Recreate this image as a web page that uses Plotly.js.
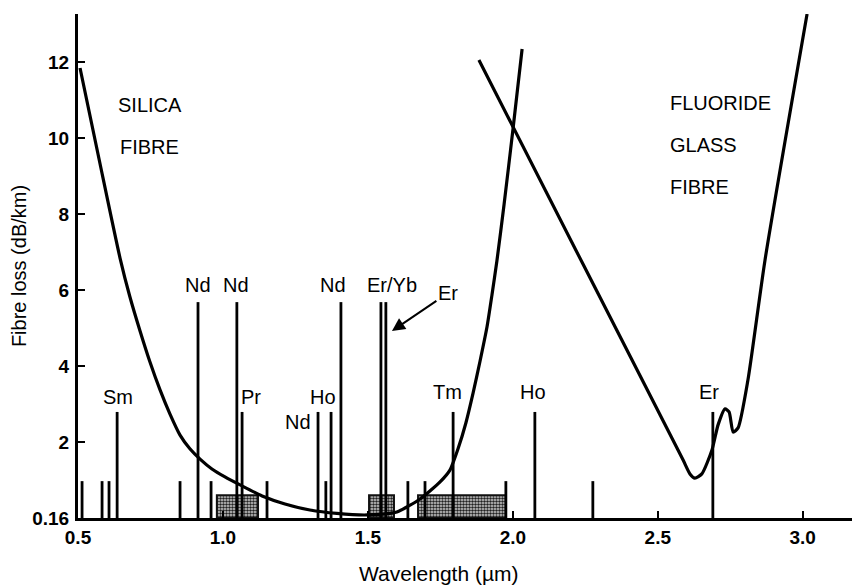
<!DOCTYPE html>
<html>
<head>
<meta charset="utf-8">
<script src="https://cdn.plot.ly/plotly-3.0.1.min.js"></script>
<style>html,body{margin:0;padding:0;background:#fff;}#chart{width:852px;height:586px;}</style>
</head>
<body>
<div id="chart"></div>
<script>
// Silica fibre loss curve (wavelength in µm, loss in dB/km)
const silicaWl   = [0.507, 0.576, 0.645, 0.679, 0.714, 0.748, 0.783, 0.817, 0.852, 0.886, 0.921, 0.962, 1.007, 1.059, 1.135, 1.214, 1.300, 1.393, 1.497, 1.600, 1.680, 1.749, 1.783, 1.811, 1.838, 1.863, 1.887, 1.911, 1.928, 1.945, 1.970, 2.001, 2.032];
const silicaLoss = [11.84, 9.32, 6.84, 5.82, 4.92, 4.11, 3.37, 2.74, 2.18, 1.82, 1.55, 1.29, 1.08, 0.87, 0.58, 0.37, 0.21, 0.12, 0.08, 0.16, 0.50, 0.95, 1.26, 1.82, 2.50, 3.29, 4.13, 5.03, 5.87, 6.76, 8.26, 10.26, 12.34];

// Fluoride glass fibre loss curve
const fluorideWl   = [1.883, 2.242, 2.587, 2.611, 2.628, 2.652, 2.687, 2.708, 2.732, 2.746, 2.760, 2.777, 2.811, 2.870, 3.015];
const fluorideLoss = [12.05, 6.68, 1.53, 1.16, 1.05, 1.16, 1.79, 2.45, 2.87, 2.79, 2.26, 2.37, 3.63, 6.79, 13.26];

// Emission lines of rare-earth dopants (wavelength, line height)
const lineWl  = [0.514, 0.583, 0.607, 0.852, 0.959, 1.152, 1.355, 1.638, 1.697, 1.976, 2.276,
                 0.635, 1.066, 1.328, 1.373, 1.794, 2.076, 2.690,
                 0.914, 1.048, 1.407, 1.545, 1.562];
const lineTop = [0.97, 0.97, 0.97, 0.97, 0.97, 0.97, 0.97, 0.97, 0.97, 0.97, 0.97,
                 2.79, 2.79, 2.79, 2.79, 2.79, 2.79, 2.79,
                 5.68, 5.68, 5.68, 5.68, 5.68];

// Shaded bands
const bandStart = [0.979, 1.504, 1.673];
const bandEnd   = [1.121, 1.590, 1.976];
const bandTop   = [0.60, 0.60, 0.60];

// Dopant labels
const dopantText = ['Nd', 'Nd', 'Nd', 'Er/Yb', 'Sm', 'Pr', 'Ho', 'Nd', 'Tm', 'Ho', 'Er'];
const dopantWl   = [0.914, 1.045, 1.380, 1.583, 0.638, 1.097, 1.345, 1.259, 1.776, 2.070, 2.677];
const dopantLoss = [6.13, 6.13, 6.13, 6.13, 3.18, 3.18, 3.18, 2.53, 3.32, 3.32, 3.32];

// Axis ticks
const xTickVals = [0.5, 1.0, 1.5, 2.0, 2.5, 3.0];
const xTickText = ['0.5', '1.0', '1.5', '2.0', '2.5', '3.0'];
const yTickVals = [0, 2, 4, 6, 8, 10, 12];
const yTickText = ['0.16', '2', '4', '6', '8', '10', '12'];

const FONT = 'Liberation Sans, Arial, Helvetica, sans-serif';
const traces = [];

bandStart.forEach((s, i) => {
  traces.push({
    type: 'scatter', mode: 'lines', hoverinfo: 'skip', showlegend: false,
    x: [s, s, bandEnd[i], bandEnd[i], s],
    y: [0, bandTop[i], bandTop[i], 0, 0],
    fill: 'toself',
    fillcolor: '#c0c0c0',
    fillpattern: {shape: '.', bgcolor: '#d4d4d4', fgcolor: '#222', size: 3, solidity: 0.55},
    line: {color: '#111', width: 2}
  });
});

const lx = [], ly = [];
lineWl.forEach((w, i) => { lx.push(w, w, null); ly.push(0, lineTop[i], null); });
traces.push({type: 'scatter', mode: 'lines', x: lx, y: ly, showlegend: false, hoverinfo: 'skip',
  line: {color: '#000', width: 2.8}});

traces.push({type: 'scatter', mode: 'lines', name: 'Silica fibre', x: silicaWl, y: silicaLoss, showlegend: false,
  line: {color: '#000', width: 3.2, shape: 'spline', smoothing: 0.6}});
traces.push({type: 'scatter', mode: 'lines', name: 'Fluoride glass fibre', x: fluorideWl, y: fluorideLoss, showlegend: false,
  line: {color: '#000', width: 3.2, shape: 'spline', smoothing: 0.6}});

const annotations = dopantText.map((t, i) => ({
  x: dopantWl[i], y: dopantLoss[i], xref: 'x', yref: 'y', text: t, showarrow: false,
  xanchor: 'center', yanchor: 'middle', font: {family: FONT, size: 20, color: '#000'}
}));
// Er with arrow
annotations.push({x: 1.583, y: 4.92, xref: 'x', yref: 'y', ax: 1.776, ay: 5.92, axref: 'x', ayref: 'y',
  text: 'Er', showarrow: true, arrowhead: 2, arrowsize: 1.3, arrowwidth: 2, arrowcolor: '#000',
  font: {family: FONT, size: 20, color: '#000'}});
// Fibre names
[['SILICA', 0.748, 10.87, 'center'], ['FIBRE', 0.748, 9.76, 'center'],
 ['FLUORIDE', 2.535, 10.92, 'left'], ['GLASS', 2.535, 9.82, 'left'], ['FIBRE', 2.535, 8.71, 'left']]
 .forEach(a => annotations.push({x: a[1], y: a[2], xref: 'x', yref: 'y', text: a[0], showarrow: false,
   xanchor: a[3], yanchor: 'middle', font: {family: FONT, size: 20, color: '#000'}}));
// x-axis title
annotations.push({x: 0.466, y: -0.11, xref: 'paper', yref: 'paper', text: 'Wavelength (µm)', showarrow: false,
  xanchor: 'center', yanchor: 'middle', font: {family: FONT, size: 21, color: '#000'}});

const layout = {
  width: 852, height: 586,
  margin: {l: 78, r: 0, t: 14, b: 68},
  paper_bgcolor: '#fff', plot_bgcolor: '#fff',
  showlegend: false,
  font: {family: FONT, color: '#000'},
  xaxis: {
    range: [0.5, 3.17], showgrid: false, zeroline: false,
    showline: true, linecolor: '#000', linewidth: 3,
    ticks: 'inside', ticklen: 7, tickwidth: 2, tickcolor: '#000',
    tickvals: xTickVals, ticktext: xTickText, ticklabelstandoff: 0,
    tickfont: {family: FONT, size: 19, color: '#000', weight: 'bold'}
  },
  yaxis: {
    range: [0, 13.26], showgrid: false, zeroline: false,
    showline: true, linecolor: '#000', linewidth: 3,
    ticks: 'inside', ticklen: 7, tickwidth: 2, tickcolor: '#000',
    tickvals: yTickVals, ticktext: yTickText, ticklabelstandoff: 2,
    tickfont: {family: FONT, size: 19, color: '#000', weight: 'bold'},
    title: {text: 'Fibre loss (dB/km)', standoff: 1, font: {family: FONT, size: 20, color: '#000'}}
  },
  annotations: annotations
};

Plotly.newPlot('chart', traces, layout, {staticPlot: true, displayModeBar: false});
</script>
</body>
</html>
